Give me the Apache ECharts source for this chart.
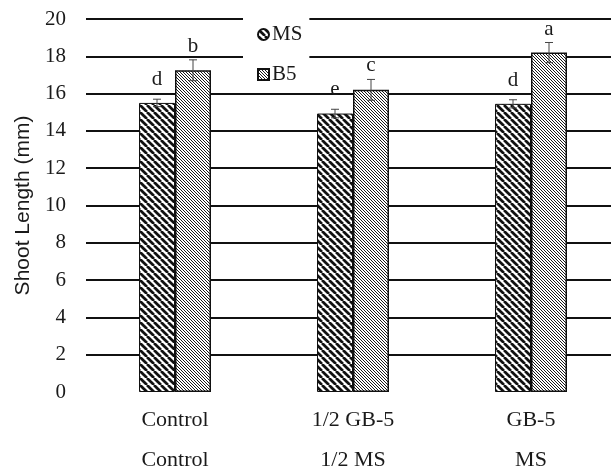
<!DOCTYPE html>
<html>
<head>
<meta charset="utf-8">
<script src="https://cdn.jsdelivr.net/npm/echarts@6/dist/echarts.min.js"></script>
<style>
html,body{margin:0;padding:0;background:#fff;}
#chart{width:611px;height:472px;}
</style>
</head>
<body>
<div id="chart"></div>
<script>
// ---- data ----
const categoriesTop = ['Control', '1/2 GB-5', 'GB-5'];
const categoriesBottom = ['Control', '1/2 MS', 'MS'];
const seriesNames = ['MS', 'B5'];
const msValues = [15.5, 14.93, 15.45];
const msErrors = [0.2, 0.23, 0.22];
const msLetters = ['d', 'e', 'd'];
const b5Values = [17.25, 16.2, 18.2];
const b5Errors = [0.56, 0.56, 0.54];
const b5Letters = ['b', 'c', 'a'];
const yTicks = { min: 0, max: 20, interval: 2 };

// ---- styles ----
const BAR_W = 36;
const SERIF = '"Liberation Serif", "Times New Roman", serif';
const SANS = '"Liberation Sans", Arial, sans-serif';

function stripePattern(p, w, color) {
  const c = document.createElement('canvas');
  c.width = p; c.height = p;
  const ctx = c.getContext('2d');
  ctx.fillStyle = '#fff';
  ctx.fillRect(0, 0, p, p);
  ctx.strokeStyle = color;
  ctx.lineWidth = w;
  for (let k = -1; k <= 1; k++) {
    ctx.beginPath();
    ctx.moveTo(k * p, 0);
    ctx.lineTo(k * p + p, p);
    ctx.stroke();
  }
  return c;
}
const msFill = { image: stripePattern(7, 2.7, '#111'), repeat: 'repeat' };
const b5Fill = { image: stripePattern(3, 1, '#1a1a1a'), repeat: 'repeat' };

function errSeries(values, errors, letters, sign, gap) {
  return {
    type: 'custom',
    z: 5,
    data: values.map((v, i) => [i, v, errors[i]]),
    encode: { x: 0, y: 1 },
    silent: true,
    renderItem: function (params, api) {
      const x = api.value(0), v = api.value(1), e = api.value(2);
      const top = api.coord([x, v + e]);
      const bot = api.coord([x, v - e]);
      const cx = top[0] + sign * BAR_W / 2;
      const ls = { stroke: '#444', lineWidth: 1 };
      return {
        type: 'group',
        children: [
          { type: 'line', shape: { x1: cx, y1: top[1], x2: cx, y2: bot[1] }, style: ls },
          { type: 'line', shape: { x1: cx - 4, y1: top[1], x2: cx + 4, y2: top[1] }, style: ls },
          { type: 'line', shape: { x1: cx - 4, y1: bot[1], x2: cx + 4, y2: bot[1] }, style: ls },
          {
            type: 'text',
            style: {
              text: letters[params.dataIndex],
              x: cx, y: top[1] - gap,
              align: 'center', verticalAlign: 'bottom',
              fontSize: 21, fontFamily: SERIF, fill: '#1a1a1a'
            }
          }
        ]
      };
    }
  };
}

const chart = echarts.init(document.getElementById('chart'), null, { renderer: 'canvas' });
chart.setOption({
  backgroundColor: '#ffffff',
  animation: false,
  grid: { left: 86, right: -9, top: 19, bottom: 80, containLabel: false, outerBoundsMode: 'none' },
  legend: {
    orient: 'vertical',
    left: 243, top: 16,
    padding: [8, 7, 8, 14],
    backgroundColor: '#ffffff',
    itemWidth: 11, itemHeight: 11,
    itemGap: 19,
    textStyle: { fontSize: 21, fontFamily: SERIF, color: '#1a1a1a', lineHeight: 20, padding: [0, 0, 0, -2] },
    data: [
      { name: seriesNames[0], icon: 'circle' },
      { name: seriesNames[1], icon: 'rect' }
    ]
  },
  xAxis: {
    type: 'category',
    data: categoriesTop,
    axisLine: { show: false },
    axisTick: { show: false },
    axisLabel: {
      interval: 0,
      margin: 8,
      fontSize: 22, fontFamily: SERIF, color: '#1a1a1a', lineHeight: 40,
      formatter: (v, i) => categoriesTop[i] + '\n' + categoriesBottom[i]
    }
  },
  yAxis: {
    type: 'value',
    min: yTicks.min, max: yTicks.max, interval: yTicks.interval,
    name: 'Shoot Length (mm)',
    nameLocation: 'middle',
    nameGap: 50,
    nameTextStyle: { fontSize: 21, fontFamily: SANS, color: '#1a1a1a' },
    axisLine: { show: false },
    axisTick: { show: false },
    axisLabel: { margin: 20, fontSize: 21, fontFamily: SERIF, color: '#1a1a1a' },
    splitLine: { show: true, showMinLine: false, lineStyle: { color: '#111', width: 2 } }
  },
  series: [
    {
      name: seriesNames[0], type: 'bar', data: msValues,
      barWidth: BAR_W, barGap: '0%',
      itemStyle: { color: msFill, borderColor: '#111', borderWidth: 1 }
    },
    {
      name: seriesNames[1], type: 'bar', data: b5Values,
      barWidth: BAR_W, barGap: '0%',
      itemStyle: { color: b5Fill, borderColor: '#111', borderWidth: 1.5 }
    },
    errSeries(msValues, msErrors, msLetters, -1, 9),
    errSeries(b5Values, b5Errors, b5Letters, 1, 3)
  ]
});
</script>
</body>
</html>
